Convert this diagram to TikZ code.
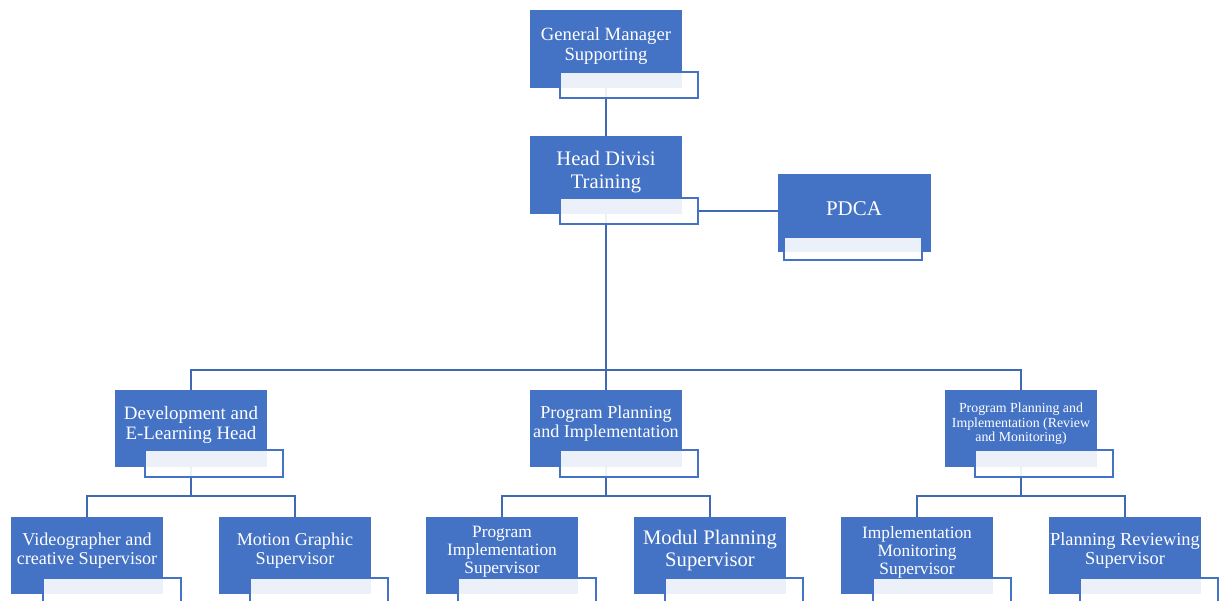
\documentclass[tikz,border=0pt]{standalone}
\usepackage{fontspec}
\setmainfont{Liberation Serif}
\usetikzlibrary{backgrounds}
\definecolor{ob}{HTML}{4472C4}
\definecolor{lk}{HTML}{3F68B5}
\begin{document}
\begin{tikzpicture}[x=0.75pt,y=-0.75pt,
 bluebox/.style={fill=ob, draw=none, anchor=north west, inner sep=0pt, outer sep=0pt, minimum width=152*0.75pt, minimum height=78*0.75pt},
 whitebox/.style={fill=white, fill opacity=0.9, draw=ob, line width=1.5pt, anchor=north west, inner sep=0pt, minimum width=140*0.75pt-1.5pt, minimum height=28*0.75pt-1.5pt},
 lbl/.style={text=white, align=center, inner sep=0pt},
 conn/.style={draw=lk, line width=1.6pt}]
\useasboundingbox (0,0) rectangle (1224,600);
\clip (0,0) rectangle (1224,600);
% blue boxes
\node[bluebox] (gmb) at (530,10) {};
\node[bluebox] (hdb) at (530,136) {};
\node[bluebox, minimum width=153*0.75pt] (pdb) at (778,174) {};
\node[bluebox, minimum height=77*0.75pt] (devb) at (115,390) {};
\node[bluebox, minimum height=77*0.75pt] (ppib) at (530,390) {};
\node[bluebox, minimum height=77*0.75pt] (pprb) at (945,390) {};
\node[bluebox, minimum height=77*0.75pt] (vidb) at (11,517) {};
\node[bluebox, minimum height=77*0.75pt] (motb) at (219,517) {};
\node[bluebox, minimum height=77*0.75pt] (pisb) at (426,517) {};
\node[bluebox, minimum height=77*0.75pt] (modb) at (634,517) {};
\node[bluebox, minimum height=77*0.75pt] (imsb) at (841,517) {};
\node[bluebox, minimum height=77*0.75pt] (prsb) at (1049,517) {};
% white boxes
\node[whitebox] (gmw) at (559,71) {};
\node[whitebox] (hdw) at (559,197) {};
\node[whitebox, minimum height=25*0.75pt-1.5pt] (pdw) at (783,236) {};
\node[whitebox, minimum height=29*0.75pt-1.5pt] (devw) at (144,449) {};
\node[whitebox, minimum height=29*0.75pt-1.5pt] (ppiw) at (559,449) {};
\node[whitebox, minimum height=29*0.75pt-1.5pt] (pprw) at (974,449) {};
\node[whitebox, minimum height=29*0.75pt-1.5pt] (vidw) at (42,577) {};
\node[whitebox, minimum height=29*0.75pt-1.5pt] (motw) at (249,577) {};
\node[whitebox, minimum height=29*0.75pt-1.5pt] (pisw) at (457,577) {};
\node[whitebox, minimum height=29*0.75pt-1.5pt] (modw) at (664,577) {};
\node[whitebox, minimum height=29*0.75pt-1.5pt] (imsw) at (872,577) {};
\node[whitebox, minimum height=29*0.75pt-1.5pt] (prsw) at (1079,577) {};
% labels
\node[lbl, font=\fontsize{14}{14.8}\selectfont] (gmt) at (606,46) {General Manager\\Supporting};
\node[lbl, font=\fontsize{15.5}{17.3}\selectfont] (hdt) at (606,172) {Head Divisi\\Training};
\node[lbl, font=\fontsize{15.7}{17}\selectfont] (pdt) at (854,209) {PDCA};
\node[lbl, font=\fontsize{14.2}{15}\selectfont] (devt) at (191,425) {Development and\\E-Learning Head};
\node[lbl, font=\fontsize{13.6}{14.3}\selectfont] (ppit) at (606,424) {Program Planning\\and Implementation};
\node[lbl, font=\fontsize{10.4}{10.9}\selectfont] (pprt) at (1021,424) {Program Planning and\\Implementation (Review\\and Monitoring)};
\node[lbl, font=\fontsize{13.6}{14.3}\selectfont] (vidt) at (87,551) {Videographer and\\creative Supervisor};
\node[lbl, font=\fontsize{13.6}{14.3}\selectfont] (mott) at (295,551) {Motion Graphic\\Supervisor};
\node[lbl, font=\fontsize{13}{13.5}\selectfont] (pist) at (502,552) {Program\\Implementation\\Supervisor};
\node[lbl, font=\fontsize{15.5}{16.5}\selectfont] (modt) at (710,551) {Modul Planning\\Supervisor};
\node[lbl, font=\fontsize{13}{13.5}\selectfont] (imst) at (917,552) {Implementation\\Monitoring\\Supervisor};
\node[lbl, font=\fontsize{13.8}{14.3}\selectfont] (prst) at (1125,551) {Planning Reviewing\\Supervisor};
% connectors
\coordinate (bus1) at (606,370);
\coordinate (busd) at (191,496);
\coordinate (busp) at (606,496);
\coordinate (busr) at (1021,496);
\begin{pgfonlayer}{background}
\draw[conn] (gmb.south) -- (hdb.north);
\draw[conn] (hdb.south) -- (ppib.north);
\draw[conn] (devb.north) |- (bus1);
\draw[conn] (pprb.north) |- (bus1);
\draw[conn] (devb.south) -- (busd);
\draw[conn] (vidb.north) |- (busd);
\draw[conn] (motb.north) |- (busd);
\draw[conn] (ppib.south) -- (busp);
\draw[conn] (pisb.north) |- (busp);
\draw[conn] (modb.north) |- (busp);
\draw[conn] (pprb.south) -- (busr);
\draw[conn] (imsb.north) |- (busr);
\draw[conn] (prsb.north) |- (busr);
\end{pgfonlayer}
\draw[conn] (hdw.east) -- (pdb.west |- hdw.east);
\end{tikzpicture}
\end{document}
